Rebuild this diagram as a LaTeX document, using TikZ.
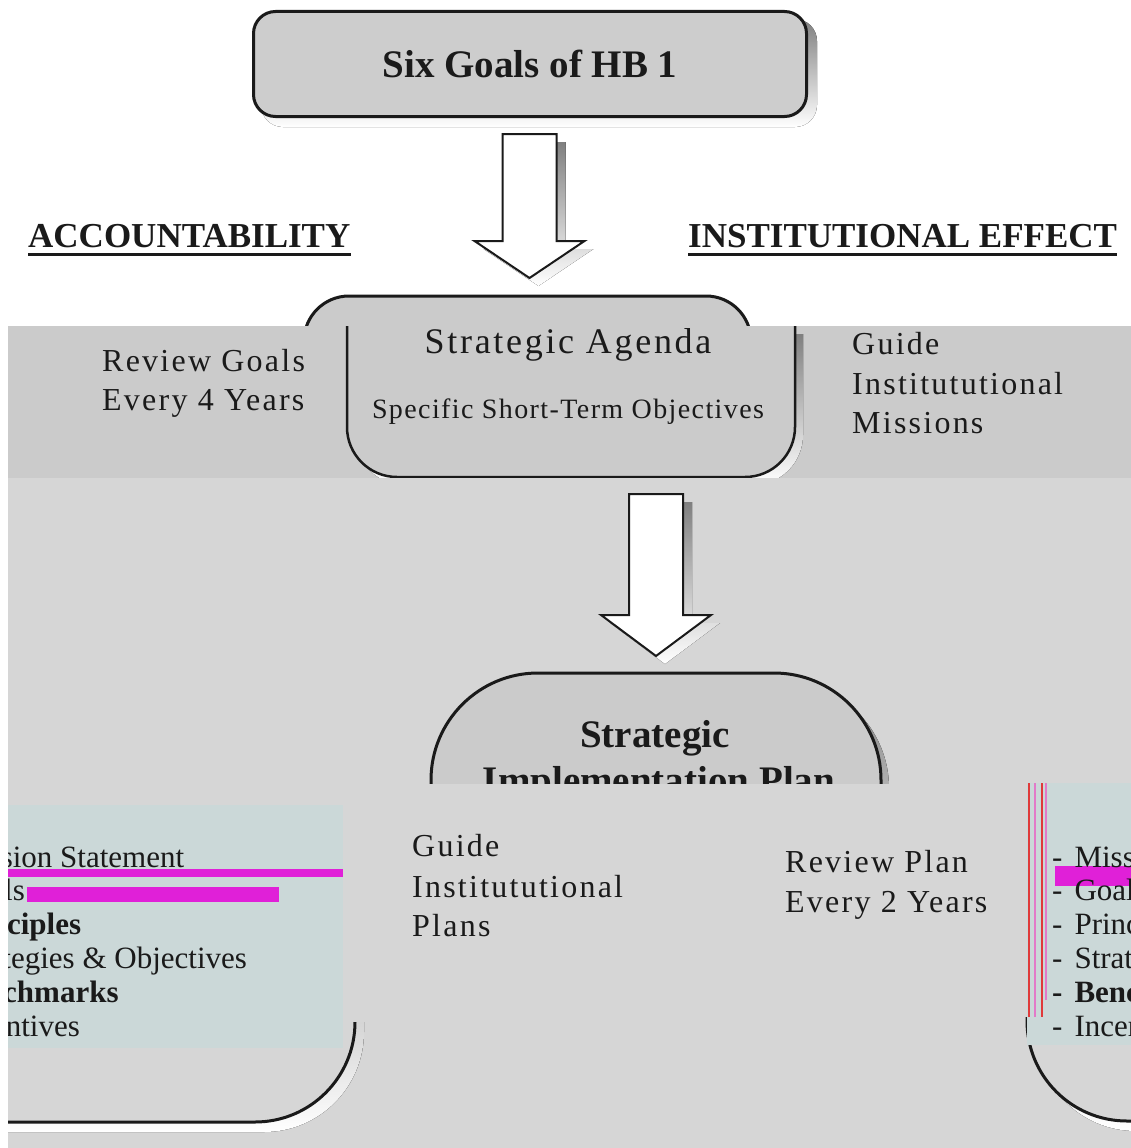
\documentclass[tikz,border=0pt]{standalone}
\usepackage{fontspec}
\setmainfont{Liberation Serif}
\newfontfamily\widefont[LetterSpace=7]{Liberation Serif}
\newfontfamily\agendafont[LetterSpace=7.5]{Liberation Serif}
\newfontfamily\objfont[LetterSpace=5]{Liberation Serif}
\usetikzlibrary{calc}
\definecolor{boxgray}{HTML}{CDCDCD}
\definecolor{bandA}{HTML}{CBCBCB}
\definecolor{bandB}{HTML}{D6D6D6}
\definecolor{shade}{HTML}{999999}
\definecolor{patch}{HTML}{CBD8D8}
\definecolor{mag}{HTML}{E020D8}
\definecolor{linered}{HTML}{E03A3A}
\definecolor{linepink}{HTML}{E27AC8}
\definecolor{ink}{HTML}{1A1A1A}
\tikzset{
  boxline/.style={line width=3pt},
  txt/.style={inner sep=0pt, anchor=base west, text=ink},
  sidetxt/.style={txt, font=\widefont\fontsize{32}{38}\selectfont},
  listtxt/.style={txt, font=\fontsize{31}{37}\selectfont},
  boldlist/.style={txt, font=\bfseries\fontsize{31}{37}\selectfont},
  headtxt/.style={txt, font=\bfseries\fontsize{35}{40}\selectfont},
  uline/.style={line width=3pt, ink},
  arrowbody/.style={draw=ink, fill=white, line width=2pt, line join=miter},
}
\newcommand\blkarrow[7]{%
  \fill[shade] ({#2-#6+9},{#3+8}) -- ({#2+#6+9},{#3+8}) -- ({#2+#6+9},{#4+8}) -- ({#2+#7+9},{#4+8}) -- ({#2+9},{#5+8}) -- ({#2-#7+9},{#4+8}) -- ({#2-#6+9},{#4+8}) -- cycle;
  \path[arrowbody] ({#2-#6},#3) -- ({#2+#6},#3) -- ({#2+#6},#4) -- ({#2+#7},#4) -- (#2,#5) -- ({#2-#7},#4) -- ({#2-#6},#4) -- cycle;
  \coordinate (#1) at (#2,#5);
}
\begin{document}
\begin{tikzpicture}[x=1pt,y=-1pt]
\useasboundingbox (0,0) rectangle (1131,1148);
\fill[white] (0,0) rectangle (1131,1148);

% ---- top box
\fill[shade, rounded corners=22pt] (261,19) rectangle (817,127);
\node[draw=ink, boxline, fill=boxgray, rounded corners=22pt, minimum width=553pt, minimum height=105pt, inner sep=0pt, text=ink, font=\bfseries\fontsize{39}{44}\selectfont] (goals) at (530,64) {Six Goals of HB 1};

% ---- arrow 1
\blkarrow{arrowone}{529.5}{134}{241}{278}{27}{55}

% ---- headings
\node[headtxt] (acc) at (28,247) {ACCOUNTABILITY};
\draw[uline] (acc.base west) ++(0,7) -- ($(acc.base east)+(0,7)$);
\node[headtxt] (inst) at (688,247) {INSTITUTIONAL EFFECT};
\draw[uline] (inst.base west) ++(0,7) -- ($(inst.base east)+(0,7)$);

% ---- strategic agenda (upper outline in white area)
\filldraw[fill=bandA, draw=ink, line width=3pt, rounded corners=45pt] (304,296) rectangle (751,470);

% ---- band A
\fill[bandA] (8,326) rectangle (1131,478);

% lower part of agenda box
\fill[shade, rounded corners=50pt] (355,334) -- (355,485) -- (803,485) -- (803,334);
\filldraw[fill=bandA, draw=ink, line width=2.5pt, rounded corners=50pt] (347,326) -- (347,477) -- (795,477) -- (795,326);
\node[txt, anchor=base, font=\agendafont\fontsize{36}{40}\selectfont] (agenda) at (568,353) {Strategic Agenda};
\node[txt, anchor=base, font=\objfont\fontsize{28}{32}\selectfont] (objectives) at (568,418) {Specific Short-Term Objectives};

\node[sidetxt] (rg1) at (102,371) {Review Goals};
\node[sidetxt] (rg2) at (102,410) {Every 4 Years};
\node[sidetxt] (gm1) at (852,354) {Guide};
\node[sidetxt] (gm2) at (852,394) {Institututional};
\node[sidetxt] (gm3) at (852,433) {Missions};

% ---- band B
\fill[bandB] (8,478) rectangle (1131,1148);

% ---- arrow 2
\blkarrow{arrowtwo}{656}{494}{615}{656}{27}{55}

% ---- strategic implementation plan box (cut at 783)
\begin{scope}
  \clip (0,600) rectangle (1131,783);
  \fill[shade, rounded corners=107pt] (439,681) rectangle (889,950);
  \filldraw[fill=bandA, draw=ink, line width=3pt, rounded corners=107pt] (431,673) rectangle (881,942);
  \node[txt, anchor=base, font=\bfseries\fontsize{39}{44}\selectfont] (sip1) at (655,747) {Strategic};
  \node[txt, anchor=base, font=\bfseries\fontsize{39}{44}\selectfont] (sip2) at (659,793) {Implementation Plan};
\end{scope}

% ---- lower area
\begin{scope}
  \clip (8,783) rectangle (1131,1148);
  % bottom-left box
  \begin{scope}
    \clip (0,1022) rectangle (420,1148);
    \fill[shade, rounded corners=100pt] (-300,800) rectangle (364,1132);
    \filldraw[fill=bandB, draw=ink, line width=3pt, rounded corners=100pt] (-300,790) rectangle (355,1122);
  \end{scope}
  % bottom-right box
  \begin{scope}
    \clip (1015,1017) rectangle (1131,1148);
    \fill[shade, rounded corners=100pt] (1036,800) rectangle (1500,1131);
    \filldraw[fill=bandB, draw=ink, line width=3pt, rounded corners=100pt] (1027,790) rectangle (1500,1121);
  \end{scope}
  % patches
  \fill[patch] (8,805) rectangle (343,1048);
  \fill[patch] (1027,783) rectangle (1131,1045);
  \draw[linered, line width=1.5pt] (1029,783) -- (1029,1017);
  \draw[linepink, line width=1.5pt] (1035,783) -- (1035,1017);
  \draw[linered, line width=1.5pt] (1042,783) -- (1042,1017);
  \draw[linepink, line width=1.2pt] (1046,783) -- (1046,1000);
  % magenta bars
  \fill[mag] (8,869) rectangle (343,877);
  \fill[mag] (27,887) rectangle (279,902);
  \fill[mag] (1055,866) rectangle (1131,886);
  % lists (left, cut off)
  \node[listtxt] (la) at (-70,867) {-\hspace{12pt}Mission Statement};
  \node[listtxt] (lb) at (-70,900) {-\hspace{12pt}Goals};
  \node[boldlist] (lc) at (-74,934) {-\hspace{12pt}Principles};
  \node[listtxt] (ld) at (-70,968) {-\hspace{12pt}Strategies \& Objectives};
  \node[boldlist] (le) at (-71,1002) {-\hspace{12pt}Benchmarks};
  \node[listtxt] (lf) at (-70,1036) {-\hspace{12pt}Incentives};
  % lists (right, cut off)
  \node[listtxt] (ra) at (1052,867) {-\hspace{12pt}Mission Statement};
  \node[listtxt] (rb) at (1052,900) {-\hspace{12pt}Goals};
  \node[listtxt] (rc) at (1052,934) {-\hspace{12pt}Principles};
  \node[listtxt] (rd) at (1052,968) {-\hspace{12pt}Strategies \& Objectives};
  \node[boldlist] (re) at (1052,1002) {-\hspace{12pt}Benchmarks};
  \node[listtxt] (rf) at (1052,1036) {-\hspace{12pt}Incentives};
  % middle texts
  \node[sidetxt] (gp1) at (412,856) {Guide};
  \node[sidetxt] (gp2) at (412,897) {Institututional};
  \node[sidetxt] (gp3) at (412,936) {Plans};
  \node[sidetxt] (rp1) at (785,872) {Review Plan};
  \node[sidetxt] (rp2) at (785,912) {Every 2 Years};
\end{scope}
\end{tikzpicture}
\end{document}
